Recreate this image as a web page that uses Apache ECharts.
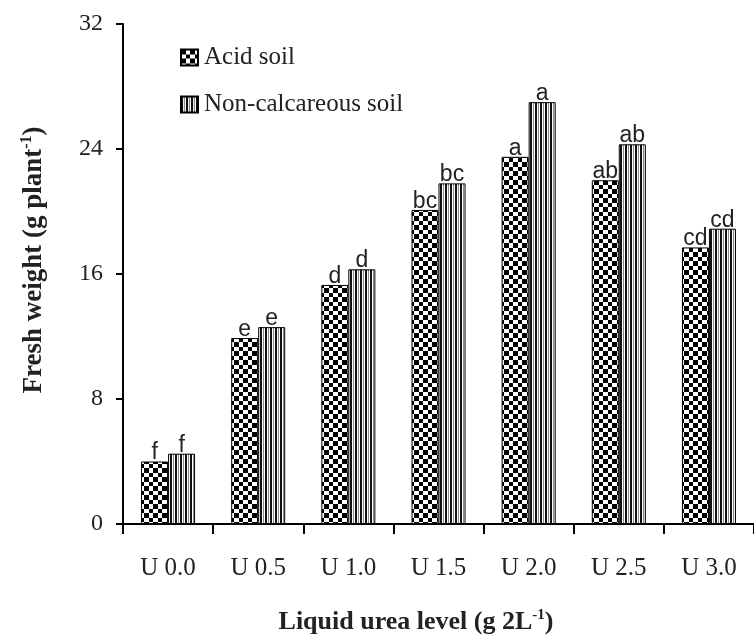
<!DOCTYPE html>
<html>
<head>
<meta charset="utf-8">
<script src="https://cdn.jsdelivr.net/npm/echarts@6/dist/echarts.min.js"></script>
<style>html,body{margin:0;padding:0;background:#fff}#c{width:754px;height:639px}</style>
</head>
<body>
<div id="c"></div>
<script>
var categories = ['U 0.0', 'U 0.5', 'U 1.0', 'U 1.5', 'U 2.0', 'U 2.5', 'U 3.0'];
var acidSoil = [4.0, 11.9, 15.3, 20.1, 23.5, 22.0, 17.7];
var nonCalcareousSoil = [4.5, 12.6, 16.3, 21.8, 27.0, 24.3, 18.9];
var acidLetters = ['f', 'e', 'd', 'bc', 'a', 'ab', 'cd'];
var nonCalcLetters = ['f', 'e', 'd', 'bc', 'a', 'ab', 'cd'];
var yTicks = [0, 8, 16, 24, 32];

function checker() {
  var c = document.createElement('canvas');
  c.width = 9; c.height = 9;
  var g = c.getContext('2d');
  g.fillStyle = '#fff'; g.fillRect(0, 0, 9, 9);
  g.fillStyle = '#000';
  g.fillRect(0, 0, 5, 5); g.fillRect(5, 5, 4, 4);
  return c;
}
function stripes() {
  var c = document.createElement('canvas');
  c.width = 5; c.height = 5;
  var g = c.getContext('2d');
  var cols = ['#111', '#111', '#fff', '#8a8a8a', '#fff'];
  for (var i = 0; i < 5; i++) { g.fillStyle = cols[i]; g.fillRect(i, 0, 1, 5); }
  return c;
}

var serif = '"Liberation Serif", "Times New Roman", serif';
var chart = echarts.init(document.getElementById('c'), null, {renderer: 'canvas'});
function labelSeries(letters) {
  return {
    show: true, position: 'top', distance: -3,
    fontFamily: '"Liberation Sans", Arial, sans-serif', fontSize: 23, color: '#222',
    formatter: function (p) { return letters[p.dataIndex]; }
  };
}
chart.setOption({
  animation: false,
  backgroundColor: '#fff',
  grid: {left: 123, right: -4, top: 24, bottom: 115, containLabel: false},
  legend: {
    orient: 'vertical', left: 175, top: 40, itemWidth: 17, itemHeight: 16, itemGap: 22,
    icon: 'rect',
    textStyle: {fontFamily: serif, fontSize: 25, color: '#222', lineHeight: 24, padding: [0, 0, 0, 1]},
    data: ['Acid soil', 'Non-calcareous soil']
  },
  xAxis: {
    type: 'category', data: categories,
    axisLine: {lineStyle: {color: '#000', width: 2}},
    axisTick: {show: true, alignWithLabel: false, length: 10, lineStyle: {color: '#000', width: 2}},
    axisLabel: {fontFamily: serif, fontSize: 25, color: '#222', margin: 32}
  },
  yAxis: {
    type: 'value', min: 0, max: 32, interval: 8,
    splitLine: {show: false},
    axisLine: {show: true, lineStyle: {color: '#000', width: 2}},
    axisTick: {show: true, length: 7, lineStyle: {color: '#000', width: 2}},
    axisLabel: {fontFamily: serif, fontSize: 24, color: '#222', margin: 20,
      formatter: function (v) { return yTicks.indexOf(v) >= 0 ? String(v) : ''; }}
  },
  graphic: [
    {type: 'text', x: 34, y: 260, rotation: Math.PI / 2,
      style: {text: '{b|Fresh weight (g plant}{s|-1}{b|)}', align: 'center', verticalAlign: 'middle',
        rich: {b: {fontFamily: serif, fontWeight: 'bold', fontSize: 27, fill: '#222'},
               s: {fontFamily: serif, fontWeight: 'bold', fontSize: 16, fill: '#222', padding: [0, 0, 14, 0]}}}},
    {type: 'text', x: 416, y: 622,
      style: {text: '{b|Liquid urea level (g 2L}{s|-1}{b|)}', align: 'center', verticalAlign: 'middle',
        rich: {b: {fontFamily: serif, fontWeight: 'bold', fontSize: 26, fill: '#222'},
               s: {fontFamily: serif, fontWeight: 'bold', fontSize: 15, fill: '#222', padding: [0, 0, 13, 0]}}}}
  ],
  series: [
    {name: 'Acid soil', type: 'bar', data: acidSoil, barWidth: 27, barGap: '0%',
      itemStyle: {color: {image: checker(), repeat: 'repeat'}, borderColor: '#000', borderWidth: 1},
      label: labelSeries(acidLetters)},
    {name: 'Non-calcareous soil', type: 'bar', data: nonCalcareousSoil, barWidth: 27, barGap: '0%',
      itemStyle: {color: {image: stripes(), repeat: 'repeat'}, borderColor: '#000', borderWidth: 1},
      label: labelSeries(nonCalcLetters)}
  ]
});
</script>
</body>
</html>
